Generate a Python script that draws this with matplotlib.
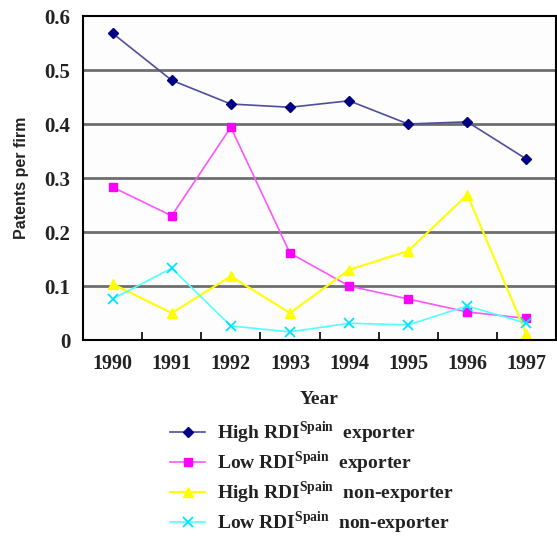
import matplotlib
matplotlib.use("Agg")
import matplotlib.pyplot as plt
from matplotlib.ticker import FixedLocator

years = ["1990", "1991", "1992", "1993", "1994", "1995", "1996", "1997"]
high_exp = [0.568, 0.481, 0.437, 0.431, 0.443, 0.400, 0.404, 0.335]
low_exp = [0.283, 0.230, 0.394, 0.161, 0.100, 0.076, 0.052, 0.040]
high_nonexp = [0.104, 0.050, 0.118, 0.050, 0.130, 0.165, 0.269, 0.011]
low_nonexp = [0.076, 0.133, 0.026, 0.015, 0.031, 0.028, 0.063, 0.031]
yticks = [0, 0.1, 0.2, 0.3, 0.4, 0.5, 0.6]
ytick_labels = ["0", "0.1", "0.2", "0.3", "0.4", "0.5", "0.6"]

plt.rcParams['font.family'] = ['Liberation Serif', 'DejaVu Serif']
plt.rcParams['font.weight'] = 'bold'
plt.rcParams['mathtext.fontset'] = 'custom'
plt.rcParams['mathtext.rm'] = 'Liberation Serif:bold'

fig = plt.figure(figsize=(5.57, 5.40), dpi=100)
ax = fig.add_axes([83/557, 1-340/540, 473/557, 324/540])
ax.set_facecolor('#fdfdfd')

x = list(range(len(years)))
ax.plot(x, high_exp, color='#4e4e9e', lw=1.2, marker='D', ms=5, mfc='#000080', mec='#000080',
        label=r"High RDI$^{\mathrm{Spain}}$  exporter")
ax.plot(x, low_exp, color='#ff55ff', lw=1.2, marker='s', ms=5.5, mfc='#ff00ff', mec='#ff00ff',
        label=r"Low RDI$^{\mathrm{Spain}}$  exporter")
ax.plot(x, high_nonexp, color='#ffff00', lw=1.5, marker='^', ms=7, mfc='#ffff00', mec='#ffff00',
        label=r"High RDI$^{\mathrm{Spain}}$  non-exporter")
ax.plot(x, low_nonexp, color='#55ffff', lw=1.2, marker='x', ms=7, mew=1.3, mec='#00e5ff',
        label=r"Low RDI$^{\mathrm{Spain}}$  non-exporter")

ax.set_xlim(-0.5, len(years) - 0.5)
ax.set_ylim(0, 0.6)
ax.set_xticks(x)
ax.set_xticklabels(years, fontsize=14.5, fontweight='bold', color='#222222')
ax.xaxis.set_minor_locator(FixedLocator([i + 0.5 for i in range(len(years) - 1)]))
ax.tick_params(axis='x', which='major', length=0, pad=10)
ax.tick_params(axis='x', which='minor', direction='in', length=6, width=1.2, color='black')
ax.set_yticks(yticks)
ax.set_yticklabels(ytick_labels, fontsize=15, fontweight='bold', color='#222222')
ax.tick_params(axis='y', length=0, pad=9)
for v in yticks[1:-1]:
    ax.axhline(v, color='#6e6e6e', lw=2, zorder=0.5)
for s in ax.spines.values():
    s.set_color('black')
    s.set_linewidth(1.5)

ax.set_xlabel("Year", fontsize=14, fontweight='bold', labelpad=12, color='#222222')
ax.set_ylabel("Patents per firm", fontsize=11.5, fontweight='bold', labelpad=11,
              family=['Liberation Sans', 'DejaVu Sans'], color='#222222')

fig.legend(loc='upper left', bbox_to_anchor=(170/557, 1-419/540), frameon=False, borderpad=0,
           borderaxespad=0, fontsize=14, labelspacing=0.18, handlelength=1.8, handletextpad=0.6,
           labelcolor='#222222')

fig.savefig("out.png", dpi=100)
